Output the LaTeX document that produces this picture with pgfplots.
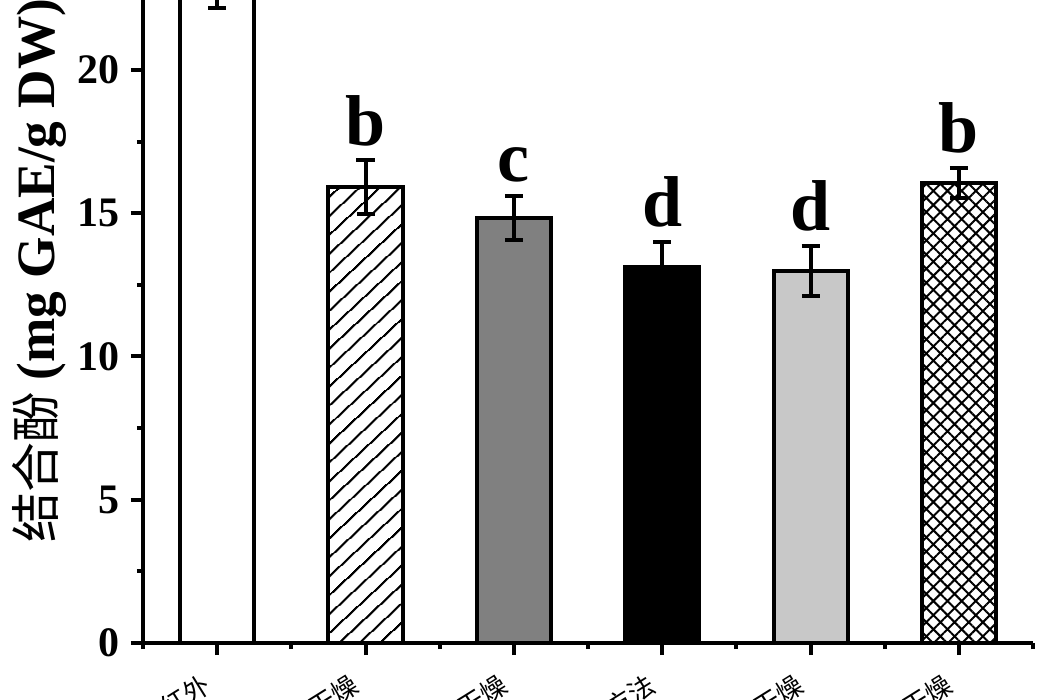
\documentclass[border=0pt]{standalone}
\usepackage{graphicx}
\usepackage{pgfplots}
\pgfplotsset{compat=1.18}
\usepackage{fontspec}
\setmainfont{Liberation Serif}
\newfontfamily\cjk{Noto Sans CJK SC}
\usetikzlibrary{patterns.meta}
\definecolor{midgray}{RGB}{128,128,128}
\definecolor{lightgray}{RGB}{200,200,200}
\begin{document}
\begin{tikzpicture}
\path[use as bounding box] (-71.5bp,-28.5bp) rectangle (453bp,321.5bp);
\clip (-71.5bp,-28.5bp) rectangle (453bp,321.5bp);
\begin{axis}[
  at={(0,0)}, anchor=south west,
  scale only axis, width=445bp, height=358.125bp,
  xmin=-0.5, xmax=5.5, ymin=0, ymax=25,
  axis x line*=bottom, axis y line*=left,
  axis line style={line width=2bp},
  every tick/.style={line width=2bp, black},
  tick align=outside,
  major tick length=6bp, minor tick length=3bp,
  xtick={0,1,2,3,4,5},
  minor xtick={-0.5,0.5,1.5,2.5,3.5,4.5,5.5},
  xticklabels={远红外,热风干燥,真空干燥,传统方法,微波干燥,冷冻干燥},
  ytick={0,5,10,15,20,25},
  minor ytick={2.5,7.5,12.5,17.5,22.5},
  /pgf/number format/assume math mode=true,
  yticklabel style={font=\bfseries\fontsize{21bp}{21bp}\selectfont, xshift=-2bp},
  xticklabel style={font=\cjk\fontsize{13bp}{13bp}\selectfont, xshift=-2bp, yshift=-12bp, rotate=32, anchor=east},
  every axis y label/.style={at={(axis description cs:-0.086,0.52)}, rotate=90, anchor=south, inner sep=0pt},
  ylabel={{\cjk\fontsize{25bp}{25bp}\selectfont 结合酚}\hspace{6bp}\scalebox{0.985}[1]{\bfseries\fontsize{27bp}{27bp}\selectfont (mg GAE/g DW)}},
  clip=true,
]
\pgfplotsset{
  mybar/.style={ybar, bar width=37bp, bar shift=0pt, draw=black, line width=2bp,
    error bars/y dir=both, error bars/y explicit,
    error bars/error bar style={line width=2bp, black},
    error bars/error mark options={rotate=90, mark size=4.5bp, line width=2bp, black}},
}
\addplot[mybar, fill=white] coordinates {(0,23.0) +- (0,0.84)};
\addplot[mybar, fill=white, pattern={Lines[angle=43,distance=6.8bp,line width=1.1bp]}] coordinates {(1,15.92) +- (0,0.93)};
\addplot[mybar, fill=midgray] coordinates {(2,14.83) +- (0,0.77)};
\addplot[mybar, fill=black] coordinates {(3,13.12) +- (0,0.88)};
\addplot[mybar, fill=lightgray] coordinates {(4,12.98) +- (0,0.88)};
\addplot[mybar, fill=white, pattern={Hatch[angle=45,distance=5bp,line width=1bp]}] coordinates {(5,16.06) +- (0,0.52)};
\addplot[only marks, mark=none, nodes near coords, point meta=explicit symbolic,
  every node near coord/.append style={anchor=base, yshift=7.5bp, inner sep=0pt, black,
    font=\bfseries\fontsize{36bp}{36bp}\selectfont}]
  coordinates {(0,23.84)[a] (1,16.85)[b] (2,15.60)[c] (3,14.00)[d] (4,13.86)[d] (5,16.58)[b]};
\end{axis}
\end{tikzpicture}
\end{document}
